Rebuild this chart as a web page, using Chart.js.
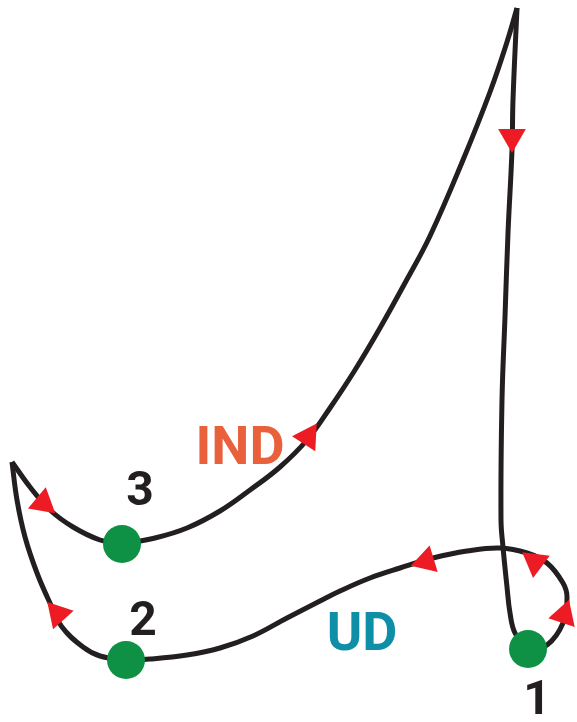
<!DOCTYPE html>
<html>
<head>
<meta charset="utf-8">
<script src="https://cdn.jsdelivr.net/npm/chart.js@4.4.1/dist/chart.umd.min.js"></script>
<style>
  html, body { margin: 0; padding: 0; background: #fff; }
  #loop { display: block; }
</style>
</head>
<body>
<canvas id="loop" width="577" height="722"></canvas>
<script>
// curve pieces (x, y; y grows downward)
const downX = [517, 513, 512, 508, 505, 502, 501, 503, 507, 510, 515, 528];
const downY = [8, 100, 150, 233, 317, 400, 520, 547, 587, 613, 633, 649];

const udX = [528, 547, 563, 567, 563, 547, 527, 500, 467, 433, 400, 370, 340, 320, 287, 253, 220, 187, 150, 126];
const udY = [649, 645, 623, 597, 583, 563, 553, 548, 551, 558, 568, 578, 591, 601, 618, 636, 648, 655, 659, 660];

const riseX = [126, 100, 83, 62, 50, 37, 25, 17, 12];
const riseY = [660, 656, 647, 627, 603, 573, 537, 500, 462];

const dropX = [12, 30, 50, 73, 100, 122];
const dropY = [462, 487, 510, 527, 540, 544];

const indX = [122, 155, 187, 220, 250, 280, 307, 330, 355, 380, 405, 430, 463, 490, 507, 517];
const indY = [544, 538, 528, 511, 490, 467, 440, 408, 370, 328, 283, 236, 160, 92, 42, 8];

// state points 1, 2, 3
const stateX = [528, 126, 122];
const stateY = [649, 660, 544];

// direction arrows
const arrowX = [512, 535, 564, 426, 308, 43, 58];
const arrowY = [137, 562, 615, 561, 437, 503, 614];
const arrowRot = [180, 187, 18, 253, 33, 130, 318];

// labels
const labelText = ['1', '2', '3', 'IND', 'UD'];
const labelX = [537, 143, 140, 240, 362];
const labelY = [702, 623, 493, 450, 636];
const labelColor = ['#231f20', '#231f20', '#231f20', '#e9603d', '#0f8ea8'];
const labelSize = [48, 48, 48, 54, 54];

const toPts = (xs, ys) => xs.map((x, i) => ({x: x, y: ys[i]}));

const curve = (xs, ys) => ({
    type: 'line',
    data: toPts(xs, ys),
    borderColor: '#231f20',
    borderWidth: 5,
    tension: 0.4,
    pointRadius: 0,
    fill: false,
    clip: false,
    order: 3
});

const labelPlugin = {
    id: 'labels',
    afterDatasetsDraw(chart) {
        const {ctx, scales} = chart;
        ctx.save();
        ctx.textAlign = 'center';
        ctx.textBaseline = 'middle';
        labelText.forEach((t, i) => {
            ctx.font = 'bold ' + labelSize[i] + 'px Roboto';
            ctx.fillStyle = labelColor[i];
            ctx.fillText(t, scales.x.getPixelForValue(labelX[i]), scales.y.getPixelForValue(labelY[i]));
        });
        ctx.restore();
    }
};

new Chart(document.getElementById('loop'), {
    type: 'scatter',
    data: {
        datasets: [
            curve(downX, downY),
            curve(udX, udY),
            curve(riseX, riseY),
            curve(dropX, dropY),
            curve(indX, indY),
            {
                data: toPts(arrowX, arrowY),
                pointStyle: 'triangle',
                rotation: arrowRot,
                pointRadius: 16,
                backgroundColor: '#ed1c24',
                borderWidth: 0,
                clip: false,
                order: 2
            },
            {
                data: toPts(stateX, stateY),
                pointRadius: 19,
                backgroundColor: '#0e9144',
                borderWidth: 0,
                clip: false,
                order: 1
            }
        ]
    },
    options: {
        responsive: false,
        animation: false,
        layout: { padding: 0, autoPadding: false },
        scales: {
            x: { display: false, min: 0, max: 577 },
            y: { display: false, min: 0, max: 722, reverse: true }
        },
        plugins: {
            legend: { display: false },
            tooltip: { enabled: false }
        }
    },
    plugins: [labelPlugin]
});
</script>
</body>
</html>
